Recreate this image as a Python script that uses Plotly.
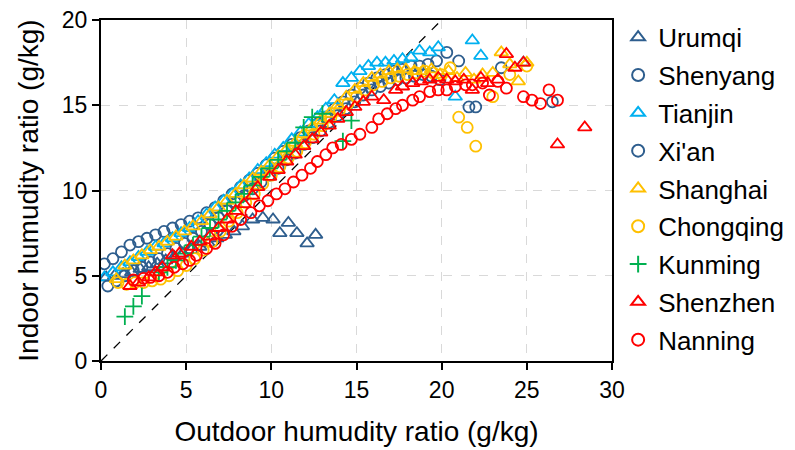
import plotly.graph_objects as go

# ---------------- data ----------------
urumqi_x = [0.3, 0.8, 1.3, 1.8, 2.3, 2.8, 3.3, 3.8, 4.3, 4.8, 5.3, 5.8, 6.3, 6.8, 7.3, 7.8, 8.3, 8.9, 9.5, 10.1, 10.5, 11.0, 11.5, 12.1, 12.6]
urumqi_y = [4.9, 5.0, 5.1, 5.2, 5.4, 5.5, 5.7, 5.9, 6.1, 6.3, 6.5, 6.7, 6.9, 7.2, 7.4, 7.6, 7.9, 8.3, 8.4, 8.3, 7.5, 8.1, 7.5, 6.9, 7.4]

shenyang_x = [0.2, 0.7, 1.2, 1.7, 2.2, 2.7, 3.2, 3.7, 4.2, 4.7, 5.2, 5.7, 6.2, 6.7, 7.2, 7.7, 8.2, 8.7, 9.2, 9.7, 10.2, 10.7, 11.2, 11.7, 12.2, 12.7, 13.2, 13.7, 14.2, 14.7, 15.2, 15.7, 16.2, 16.7, 17.2, 17.7, 18.2, 18.7, 19.2, 19.7, 20.3, 21.0, 23.5, 26.5]
shenyang_y = [5.7, 6.0, 6.4, 6.8, 7.0, 7.2, 7.4, 7.6, 7.8, 8.0, 8.2, 8.4, 8.7, 9.0, 9.4, 9.8, 10.2, 10.6, 11.0, 11.5, 11.9, 12.3, 12.7, 13.1, 13.5, 13.9, 14.3, 14.8, 15.2, 15.6, 16.0, 16.3, 16.6, 16.8, 17.0, 17.1, 17.3, 17.3, 17.4, 17.6, 18.1, 17.6, 17.2, 15.2]

tianjin_x = [0.2, 0.7, 1.2, 1.7, 2.2, 2.7, 3.2, 3.7, 4.2, 4.7, 5.2, 5.7, 6.2, 6.7, 7.2, 7.7, 8.2, 8.7, 9.2, 9.7, 10.2, 10.7, 11.2, 11.7, 12.2, 12.7, 13.2, 13.7, 14.2, 14.7, 15.2, 15.7, 16.2, 16.7, 17.2, 17.7, 18.2, 18.7, 19.3, 19.8, 20.8, 21.8, 22.3, 24.8]
tianjin_y = [4.9, 5.2, 5.5, 5.8, 6.1, 6.4, 6.7, 6.9, 7.2, 7.5, 7.8, 8.2, 8.6, 9.0, 9.4, 9.8, 10.3, 10.7, 11.2, 11.6, 12.1, 12.5, 13.0, 13.4, 13.9, 14.3, 14.8, 15.3, 16.3, 16.6, 17.0, 17.3, 17.5, 17.5, 17.6, 17.7, 17.8, 18.2, 18.1, 18.4, 15.5, 18.8, 17.9, 17.5]

xian_x = [0.4, 0.9, 1.4, 1.9, 2.4, 2.9, 3.4, 3.9, 4.4, 4.9, 5.4, 5.9, 6.4, 6.9, 7.4, 7.9, 8.4, 8.9, 9.4, 9.9, 10.4, 10.9, 11.4, 11.9, 12.4, 12.9, 13.4, 13.9, 14.4, 14.9, 15.4, 15.9, 16.4, 16.9, 17.4, 17.9, 18.4, 18.9, 19.4, 19.9, 21.6, 22.0]
xian_y = [4.4, 4.7, 5.0, 5.3, 5.5, 5.8, 6.0, 6.3, 6.6, 6.9, 7.2, 7.6, 8.0, 8.4, 8.8, 9.3, 9.7, 10.1, 10.5, 10.9, 11.3, 11.8, 12.2, 12.7, 13.1, 13.5, 14.0, 14.4, 14.8, 15.2, 15.6, 15.9, 16.1, 16.3, 16.5, 16.6, 16.7, 16.8, 16.7, 16.5, 14.9, 14.9]

shanghai_x = [0.9, 1.4, 1.9, 2.4, 2.9, 3.4, 3.9, 4.4, 4.9, 5.4, 5.9, 6.4, 6.9, 7.4, 7.9, 8.4, 8.9, 9.4, 9.9, 10.4, 10.9, 11.4, 11.9, 12.4, 12.9, 13.4, 13.9, 14.4, 14.9, 15.4, 15.9, 16.4, 16.9, 17.4, 17.9, 18.4, 18.9, 19.4, 19.9, 20.4, 20.9, 21.4, 21.9, 22.4, 23.0, 23.5, 24.0, 24.5, 25.0]
shanghai_y = [4.8, 5.6, 5.9, 6.2, 6.5, 6.7, 7.0, 7.3, 7.6, 7.9, 8.2, 8.6, 9.0, 9.4, 9.8, 10.3, 10.7, 11.1, 11.5, 12.0, 12.4, 12.8, 13.3, 13.7, 14.1, 14.5, 15.0, 15.5, 15.9, 16.3, 16.6, 16.8, 17.0, 17.1, 17.1, 17.0, 17.0, 17.1, 16.8, 17.0, 16.6, 16.9, 16.5, 16.8, 16.9, 18.1, 17.4, 16.4, 17.5]

chongqing_x = [1.0, 1.5, 2.0, 2.5, 3.0, 3.5, 4.0, 4.5, 5.0, 5.5, 6.0, 6.5, 7.0, 7.5, 8.0, 8.5, 9.0, 9.5, 10.0, 10.5, 11.0, 11.5, 12.0, 12.5, 13.0, 13.5, 14.0, 14.5, 15.0, 15.5, 16.0, 16.5, 17.0, 17.5, 18.0, 18.5, 19.0, 19.5, 20.0, 20.5, 21.0, 21.5, 22.0, 23.0, 24.0, 25.0]
chongqing_y = [4.6, 4.5, 4.6, 4.6, 4.7, 4.8, 5.0, 5.3, 5.6, 6.0, 6.5, 7.0, 7.6, 8.2, 8.7, 9.3, 9.8, 10.4, 10.9, 11.4, 11.9, 12.3, 12.8, 13.3, 13.8, 14.3, 14.7, 15.1, 15.5, 15.9, 16.2, 16.4, 16.6, 16.7, 16.8, 16.9, 17.0, 16.9, 16.8, 17.2, 14.3, 13.7, 12.6, 15.5, 16.8, 17.3]

kunming_x = [1.4, 1.9, 2.4, 3.4, 3.9, 4.4, 4.9, 5.4, 5.9, 6.4, 6.9, 7.4, 7.9, 8.4, 8.9, 9.4, 9.9, 10.4, 10.9, 11.4, 11.9, 12.4, 13.0, 14.2, 14.7]
kunming_y = [2.6, 3.2, 3.8, 5.2, 5.5, 5.9, 6.3, 6.8, 7.3, 7.8, 8.3, 8.8, 9.3, 9.8, 10.3, 10.8, 11.3, 11.8, 12.3, 12.8, 13.7, 14.3, 14.5, 12.9, 14.1]

shenzhen_x = [1.7, 2.2, 2.8, 3.2, 3.6, 4.2, 4.6, 5.3, 5.8, 6.4, 6.9, 7.4, 7.9, 8.4, 8.9, 9.2, 9.9, 10.4, 10.9, 11.4, 11.9, 12.4, 12.9, 13.4, 13.9, 14.4, 14.9, 15.4, 15.9, 16.6, 17.3, 17.7, 18.3, 18.8, 19.3, 19.8, 20.3, 20.8, 21.3, 21.8, 22.3, 22.7, 23.3, 23.8, 24.3, 24.8, 26.8, 28.4]
shenzhen_y = [4.4, 4.6, 4.9, 5.2, 5.5, 6.2, 6.3, 6.7, 7.0, 7.3, 7.8, 8.3, 8.8, 9.2, 9.7, 10.2, 10.8, 11.2, 11.7, 12.1, 12.6, 13.0, 13.4, 13.8, 14.2, 14.6, 14.9, 15.2, 15.5, 15.3, 15.9, 16.1, 16.3, 16.4, 16.5, 16.6, 16.5, 16.4, 16.5, 15.9, 16.6, 16.3, 16.5, 18.0, 17.2, 17.5, 12.7, 13.7]

nanning_x = [1.9, 2.5, 2.9, 3.4, 3.9, 4.3, 4.8, 5.2, 5.6, 6.2, 6.7, 7.2, 7.7, 8.2, 8.8, 9.3, 9.8, 10.3, 10.8, 11.3, 11.8, 12.3, 12.7, 13.2, 13.6, 14.1, 14.7, 15.2, 15.9, 16.3, 16.8, 17.3, 17.7, 18.3, 18.7, 19.3, 19.8, 20.3, 20.8, 21.4, 21.8, 22.4, 22.8, 23.3, 23.8, 24.8, 25.3, 25.8, 26.3, 26.8]
nanning_y = [4.75, 4.85, 4.9, 5.0, 5.2, 5.5, 5.7, 5.9, 6.2, 6.6, 6.9, 7.4, 7.9, 8.3, 8.7, 9.1, 9.4, 9.8, 10.1, 10.5, 10.9, 11.3, 11.7, 12.1, 12.5, 12.7, 13.0, 13.3, 13.7, 14.2, 14.5, 14.8, 15.0, 15.3, 15.5, 15.8, 15.9, 15.9, 16.1, 16.2, 16.2, 16.3, 15.6, 16.4, 16.0, 15.5, 15.3, 15.1, 15.9, 15.3]

ref_x = [0, 20]
ref_y = [0, 20]

# ---------------- styling ----------------
BLUE = "#2E5E8E"
CYAN = "#00B0F0"
GOLD = "#FFC000"
GREEN = "#00B050"
RED = "#FF0000"
FONT = "Liberation Sans, Arial, sans-serif"

series = [
    ("Urumqi", urumqi_x, urumqi_y, "triangle-up-open", BLUE),
    ("Shenyang", shenyang_x, shenyang_y, "circle-open", BLUE),
    ("Tianjin", tianjin_x, tianjin_y, "triangle-up-open", CYAN),
    ("Xi'an", xian_x, xian_y, "circle-open", BLUE),
    ("Shanghai", shanghai_x, shanghai_y, "triangle-up-open", GOLD),
    ("Chongqing", chongqing_x, chongqing_y, "circle-open", GOLD),
    ("Kunming", kunming_x, kunming_y, "cross-thin-open", GREEN),
    ("Shenzhen", shenzhen_x, shenzhen_y, "triangle-up-open", RED),
    ("Nanning", nanning_x, nanning_y, "circle-open", RED),
]

fig = go.Figure()

fig.add_trace(go.Scatter(
    x=ref_x, y=ref_y, mode="lines", showlegend=False, hoverinfo="skip",
    line=dict(color="black", width=1.3, dash="dash"),
))

for name, xs, ys, sym, col in series:
    size = 12 if "triangle" in sym else 11
    if sym.startswith("cross"):
        size = 12
    fig.add_trace(go.Scatter(
        x=xs, y=ys, mode="markers", name=name, legendgroup=name,
        marker=dict(symbol=sym, size=size, color=col,
                    line=dict(color=col, width=1.8)),
    ))

axis_common = dict(
    showline=True, linecolor="black", linewidth=2, mirror=True,
    ticks="outside", ticklen=7, tickwidth=1.5, tickcolor="black",
    showgrid=True, gridcolor="#D9D9D9", griddash="dash", gridwidth=1,
    zeroline=False, automargin=False,
    tickfont=dict(family=FONT, size=23, color="black"),
)

fig.update_layout(
    width=795, height=450,
    margin=dict(l=101, r=183, t=20, b=89, autoexpand=False),
    paper_bgcolor="white", plot_bgcolor="white",
    font=dict(family=FONT, color="black"),
    xaxis=dict(range=[0, 30], dtick=5,
               title=dict(text="Outdoor humudity ratio (g/kg)", font=dict(size=28), standoff=20),
               **axis_common),
    yaxis=dict(range=[0, 20], dtick=5,
               title=dict(text="Indoor humudity ratio (g/kg)", font=dict(size=28), standoff=15),
               **axis_common),
    legend=dict(x=1.012, y=1.018, xanchor="left", yanchor="top",
                font=dict(size=26, color="black"),
                bgcolor="rgba(0,0,0,0)", itemsizing="constant",
                traceorder="grouped", tracegroupgap=1,
                maxheight=450),
)

fig.write_html("out.html")
